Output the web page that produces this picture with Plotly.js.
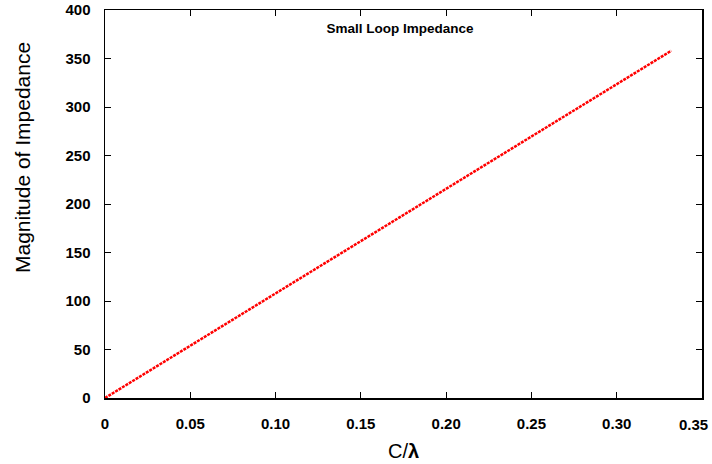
<!DOCTYPE html>
<html>
<head>
<meta charset="utf-8">
<script src="https://cdn.plot.ly/plotly-3.0.1.min.js"></script>
<style>html,body{margin:0;padding:0;background:#fff;}#chart{width:712px;height:464px;}</style>
</head>
<body>
<div id="chart"></div>
<script>
const ratio = [0, 0.025, 0.05, 0.075, 0.10, 0.125, 0.15, 0.175, 0.20, 0.225, 0.25, 0.275, 0.30, 0.332];
const impedance = [0, 27, 54, 81, 108, 135, 162, 189, 216, 243, 270, 297, 324, 358];
const xTicks = [0, 0.05, 0.10, 0.15, 0.20, 0.25, 0.30, 0.35];
const xTickText = ['0', '0.05', '0.10', '0.15', '0.20', '0.25', '0.30', '0.35'];
const yTicks = [0, 50, 100, 150, 200, 250, 300, 350, 400];

const FONT = 'Liberation Sans, Arial, sans-serif';
const trace = {
  x: ratio, y: impedance, type: 'scatter', mode: 'lines',
  line: {color: '#ff0000', width: 2.5, dash: '3px,1px'},
  hoverinfo: 'skip'
};
const tickFont = {family: FONT, size: 15, color: '#000', weight: 'bold'};
// last x tick label is drawn shifted inward (as in the reference)
const shownText = xTickText.map((t, i) => i === xTickText.length - 1 ? '' : t);
const layout = {
  width: 712, height: 464,
  margin: {l: 105, r: 10, t: 10, b: 66},
  paper_bgcolor: '#fff', plot_bgcolor: '#fff',
  showlegend: false,
  title: {text: '<b>Small Loop Impedance</b>', font: {family: FONT, size: 13.5, color: '#000'},
          xref: 'container', x: 400/712, xanchor: 'center', yref: 'container', y: 1 - 28/464, yanchor: 'middle'},
  xaxis: {
    range: [0, 0.35], tickvals: xTicks, ticktext: shownText,
    ticks: 'inside', ticklen: 6, tickwidth: 1, tickcolor: '#000',
    showline: true, linecolor: '#000', linewidth: 1.5, mirror: 'allticks',
    showgrid: false, zeroline: false, tickfont: tickFont, ticklabelstandoff: 11,
    title: {text: 'C/<b>λ</b>', font: {family: FONT, size: 20, color: '#000'}, standoff: 13}
  },
  yaxis: {
    range: [0, 400], tickvals: yTicks,
    ticks: 'inside', ticklen: 6, tickwidth: 1, tickcolor: '#000',
    showline: true, linecolor: '#000', linewidth: 1.5, mirror: 'allticks',
    showgrid: false, zeroline: false, tickfont: tickFont, ticklabelstandoff: 10
  },
  annotations: [
    {text: xTickText[xTickText.length - 1], x: xTicks[xTicks.length - 1], xref: 'x', xanchor: 'right', xshift: 8,
     y: 0, yref: 'paper', yanchor: 'top', yshift: -16, showarrow: false, font: tickFont},
    {text: 'Magnitude of Impedance', textangle: -90, xref: 'paper', x: -(105 - 22) / 597, xanchor: 'center',
     yref: 'paper', y: (398 - 158) / 388, yanchor: 'middle', showarrow: false,
     font: {family: FONT, size: 21, color: '#000'}}
  ]
};
Plotly.newPlot('chart', [trace], layout, {displayModeBar: false, staticPlot: true});
</script>
</body>
</html>
